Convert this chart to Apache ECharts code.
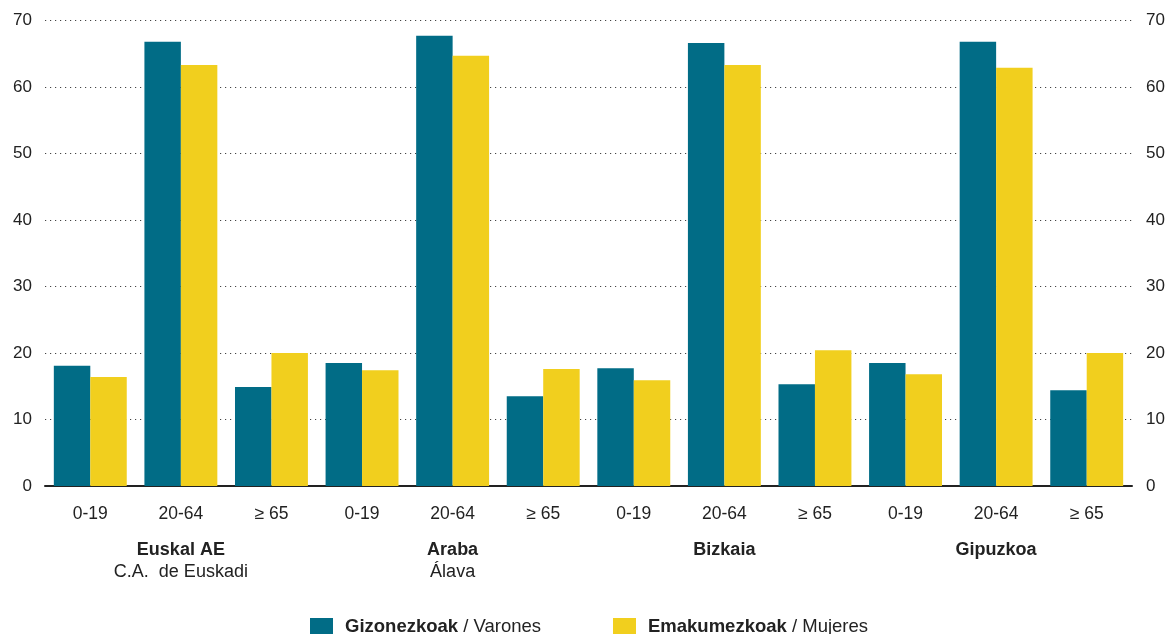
<!DOCTYPE html>
<html>
<head>
<meta charset="utf-8">
<script src="https://cdn.jsdelivr.net/npm/echarts@6/dist/echarts.min.js"></script>
<style>
  html, body { margin: 0; padding: 0; background: #fff; }
  #chart { width: 1170px; height: 634px; }
</style>
</head>
<body>
<div id="chart"></div>
<script>
const ageGroups = ["0-19", "20-64", "≥ 65"];
const regionNames = ["Euskal AE", "Araba", "Bizkaia", "Gipuzkoa"];
const regionSubNames = ["C.A.  de Euskadi", "Álava", "", ""];
const categories = regionNames.flatMap(() => ageGroups);

// Gizonezkoak / Varones
const men = [18.1, 66.8, 14.9, 18.5, 67.7, 13.5, 17.7, 66.6, 15.3, 18.5, 66.8, 14.4];
// Emakumezkoak / Mujeres
const women = [16.4, 63.3, 20.0, 17.4, 64.7, 17.6, 15.9, 63.3, 20.4, 16.8, 62.9, 20.0];

const seriesNames = ["Gizonezkoak / Varones", "Emakumezkoak / Mujeres"];
const yTicks = { min: 0, max: 70, interval: 10 };

const FONT = "'Liberation Sans', Arial, sans-serif";
const TXT = "#222";

const chart = echarts.init(document.getElementById("chart"));

function legendFmt(name) {
  const [eu, es] = name.split(" / ");
  return "{b|" + eu + "}{n| / " + es + "}";
}
function legendStyle() {
  return {
    color: TXT, fontSize: 18.5, fontFamily: FONT, padding: [0, 0, 0, 7],
    rich: {
      b: { fontWeight: "bold", fontSize: 18.5, fontFamily: FONT, color: TXT },
      n: { fontSize: 18.5, fontFamily: FONT, color: TXT },
    },
  };
}

chart.setOption({
  animation: false,
  textStyle: { fontFamily: FONT },
  color: ["#016c86", "#f1cf1e"],
  grid: { left: 45, right: 38, top: 20.5, bottom: 148 },
  legend: [
    {
      data: [seriesNames[0]], left: 310, top: 617, padding: 0, itemWidth: 23, itemHeight: 17,
      icon: "rect", formatter: legendFmt, textStyle: legendStyle(),
      selectedMode: false,
    },
    {
      data: [seriesNames[1]], left: 613, top: 617, padding: 0, itemWidth: 23, itemHeight: 17,
      icon: "rect", formatter: legendFmt, textStyle: legendStyle(),
      selectedMode: false,
    },
  ],
  xAxis: [
    {
      type: "category",
      data: categories,
      axisLine: { lineStyle: { color: TXT, width: 2 } },
      axisTick: { show: false },
      axisLabel: { color: TXT, fontSize: 17.5, margin: 19, fontFamily: FONT },
    },
    {
      type: "category",
      data: regionNames,
      position: "bottom",
      axisLine: { show: false },
      axisTick: { show: false },
      axisLabel: {
        margin: 53,
        lineHeight: 22,
        formatter: (v, i) => "{b|" + v + "}" + (regionSubNames[i] ? "\n{n|" + regionSubNames[i] + "}" : ""),
        rich: {
          b: { fontWeight: "bold", fontSize: 18, color: TXT, fontFamily: FONT, lineHeight: 22 },
          n: { fontSize: 18, color: TXT, fontFamily: FONT, lineHeight: 22 },
        },
      },
    },
  ],
  yAxis: [
    {
      type: "value", ...yTicks,
      axisLine: { show: false },
      axisTick: { show: false },
      axisLabel: { color: TXT, fontSize: 17, margin: 13, fontFamily: FONT },
      splitLine: { lineStyle: { color: "#444", width: 1, type: [1.2, 3.8] } },
    },
    {
      type: "value", ...yTicks, position: "right",
      axisLine: { show: false },
      axisTick: { show: false },
      axisLabel: { color: TXT, fontSize: 17, margin: 14, fontFamily: FONT },
      splitLine: { show: false },
    },
  ],
  series: [
    {
      name: seriesNames[0], type: "bar", data: men,
      barGap: "0%", barCategoryGap: "19.5%",
    },
    {
      name: seriesNames[1], type: "bar", data: women,
      barGap: "0%", barCategoryGap: "19.5%",
    },
  ],
});
</script>
</body>
</html>
